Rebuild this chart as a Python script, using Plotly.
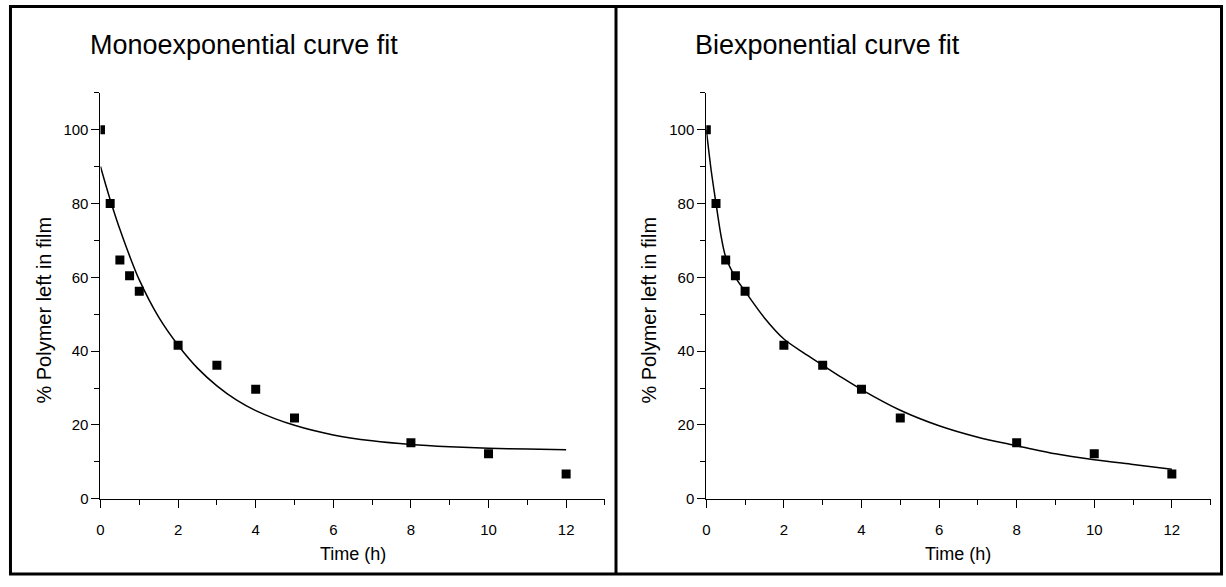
import plotly.graph_objects as go

# ---- data ----
time_h = [0, 0.25, 0.5, 0.75, 1, 2, 3, 4, 5, 8, 10, 12]
polymer_left = [100, 80, 64.7, 60.4, 56.2, 41.6, 36.2, 29.7, 21.9, 15.2, 12.2, 6.7]

fit_t = [0, 0.125, 0.25, 0.375, 0.5, 0.75, 1, 1.5, 2, 2.5, 3, 3.5, 4, 5, 6, 7, 8, 9, 10, 11, 12]
mono_fit = [90.0, 85.4, 81.0, 76.9, 73.0, 65.8, 59.3, 49.2, 41.6, 35.4, 30.6, 26.8, 23.9,
            19.9, 17.3, 15.7, 14.7, 14.1, 13.7, 13.5, 13.3]
bi_fit = [100.0, 89.0, 80.0, 71.5, 65.5, 60.0, 56.2, 49.0, 43.3, 39.6, 36.2, 32.8, 29.6,
          24.0, 19.8, 16.7, 14.4, 12.2, 10.6, 9.3, 8.0]

titles = ["Monoexponential curve fit", "Biexponential curve fit"]
x_title = "Time (h)"
y_title = "% Polymer left in film"

W, H = 1226, 587
FONT = "Arial, Liberation Sans, sans-serif"

fig = go.Figure()

for i, fit in enumerate([mono_fit, bi_fit]):
    sfx = "" if i == 0 else "2"
    fig.add_trace(go.Scatter(x=fit_t, y=fit, mode="lines",
                             line=dict(color="black", width=1.5, shape="spline", smoothing=0.8),
                             xaxis="x" + sfx, yaxis="y" + sfx, showlegend=False, hoverinfo="skip"))
    fig.add_trace(go.Scatter(x=time_h, y=polymer_left, mode="markers",
                             marker=dict(symbol="square", size=9, color="black"),
                             xaxis="x" + sfx, yaxis="y" + sfx, showlegend=False, cliponaxis=True))

ydom = [(H - 505.7) / H, (H - 94) / H]
xdoms = [[96.8 / W, 602.9 / W], [704.6 / W, 1210.6 / W]]

common_x = dict(range=[0, 13], dtick=2, tick0=0, ticks="outside", ticklen=8, tickwidth=1, tickcolor="black",
                showline=True, linecolor="black", linewidth=1, showgrid=False, zeroline=False,
                tickfont=dict(family=FONT, size=15, color="black"), ticklabelstandoff=9,
                minor=dict(dtick=1, tick0=0, ticks="outside", ticklen=5, tickwidth=1, tickcolor="black",
                           showgrid=False))
common_y = dict(range=[0, 110], tickvals=[0, 20, 40, 60, 80, 100], ticks="outside", ticklen=8, tickwidth=1,
                tickcolor="black", showline=True, linecolor="black", linewidth=1, showgrid=False, zeroline=False,
                tickfont=dict(family=FONT, size=15, color="black"),
                minor=dict(tickvals=[10, 30, 50, 70, 90, 110], ticks="outside", ticklen=5, tickwidth=1,
                           tickcolor="black", showgrid=False),
                domain=ydom)

fig.update_layout(
    width=W, height=H, margin=dict(l=0, r=0, t=0, b=0),
    paper_bgcolor="white", plot_bgcolor="white",
    xaxis=dict(domain=xdoms[0], anchor="y", **common_x),
    yaxis=dict(anchor="x", **common_y),
    xaxis2=dict(domain=xdoms[1], anchor="y2", **common_x),
    yaxis2=dict(anchor="x2", **common_y),
)

annos = []
for i, (tx, ylx) in enumerate([(84, 40), (691, 647)]):
    annos.append(dict(text=titles[i], x=tx / W, y=1 - 46 / H, xref="paper", yref="paper",
                      xanchor="left", yanchor="middle", showarrow=False,
                      font=dict(family=FONT, size=27, color="black")))
    annos.append(dict(text=y_title, x=ylx / W, y=1 - 314 / H, xref="paper", yref="paper",
                      xanchor="center", yanchor="middle", textangle=-90, showarrow=False,
                      font=dict(family=FONT, size=20, color="black")))
    xd = xdoms[i]
    annos.append(dict(text=x_title, x=(xd[0] + xd[1]) / 2, y=1 - 562 / H, xref="paper", yref="paper",
                      xanchor="center", yanchor="middle", showarrow=False,
                      font=dict(family=FONT, size=18, color="black")))
fig.update_layout(annotations=annos)

shapes = [
    dict(type="rect", xref="paper", yref="paper", x0=6.5 / W, x1=1221.5 / W, y0=1 - 582 / H, y1=1 - 6.5 / H,
         line=dict(color="black", width=3)),
    dict(type="line", xref="paper", yref="paper", x0=614 / W, x1=614 / W, y0=1 - 582 / H, y1=1 - 6.5 / H,
         line=dict(color="black", width=3)),
]
fig.update_layout(shapes=shapes)

fig.write_html("out.html")
